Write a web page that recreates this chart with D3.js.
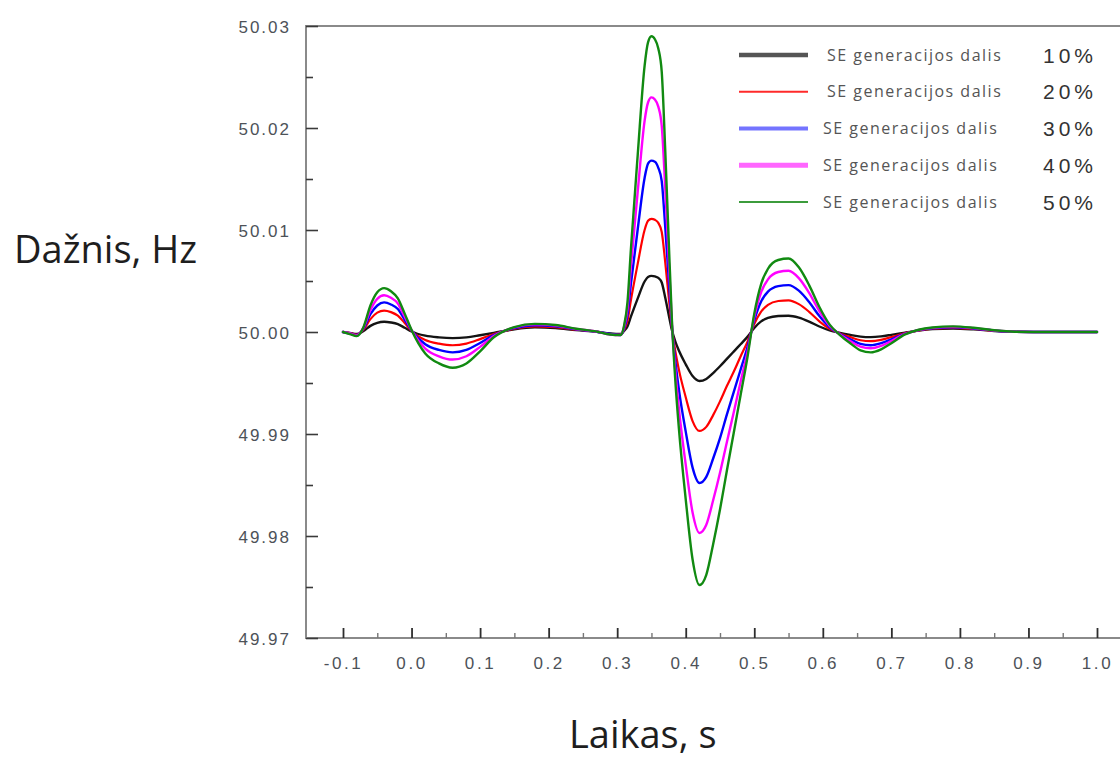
<!DOCTYPE html>
<html>
<head>
<meta charset="utf-8">
<script src="https://cdn.jsdelivr.net/npm/d3@7"></script>
<style>
  html, body { margin: 0; padding: 0; background: #ffffff; }
  svg { display: block; }
</style>
</head>
<body>
<svg id="chart" width="1120" height="758"></svg>
<script>
// ---------------- data (frequency deviation from 50 Hz, in mHz) ----------------
const times = [-0.10, -0.09, -0.08, -0.07, -0.06, -0.05, -0.04, -0.03, -0.02, -0.01, 0.00,
  0.02, 0.04, 0.06, 0.08, 0.10, 0.12, 0.15, 0.18, 0.21, 0.24, 0.27, 0.29, 0.305,
  0.31, 0.315, 0.32, 0.33, 0.34, 0.345, 0.35, 0.355, 0.36, 0.365, 0.37, 0.375, 0.38,
  0.385, 0.39, 0.40, 0.41, 0.42, 0.43, 0.44, 0.45, 0.46, 0.47, 0.48, 0.49,
  0.50, 0.51, 0.52, 0.535, 0.55, 0.565, 0.58, 0.595, 0.61,
  0.625, 0.64, 0.655, 0.67, 0.685, 0.70, 0.72,
  0.74, 0.76, 0.79, 0.82, 0.85, 0.88, 0.92, 0.96, 1.00];

const share10 = [0, -0.1, -0.2, 0.1, 0.6, 0.9, 1.0, 0.93, 0.77, 0.42, 0.05,
  -0.36, -0.53, -0.6, -0.53, -0.32, -0.09, 0.27, 0.45, 0.38, 0.18, 0.02, -0.15, -0.2,
  0.1, 0.55, 1.5, 3.3, 4.95, 5.4, 5.5, 5.45, 5.3, 4.85, 3.4, 1.75, 0.15,
  -0.96, -1.82, -3.17, -4.32, -4.8, -4.6, -4.03, -3.36, -2.64, -1.92, -1.2, -0.48,
  0.4, 1.04, 1.38, 1.57, 1.6, 1.41, 1.02, 0.54, 0.16,
  -0.08, -0.28, -0.45, -0.5, -0.43, -0.28, -0.06,
  0.14, 0.28, 0.35, 0.26, 0.1, 0.02, 0, 0, 0];

const share20 = [0, -0.1, -0.25, 0.25, 1.26, 1.9, 2.1, 1.95, 1.6, 0.88, 0.1,
  -0.78, -1.14, -1.3, -1.14, -0.7, -0.2, 0.33, 0.55, 0.47, 0.22, 0.03, -0.2, -0.25,
  0.2, 1.1, 3.1, 6.7, 10.0, 10.9, 11.1, 11.0, 10.7, 9.8, 6.9, 3.55, 0.3,
  -1.94, -3.69, -6.4, -8.73, -9.7, -9.3, -8.15, -6.8, -5.3, -3.9, -2.4, -0.97,
  0.78, 2.0, 2.67, 3.04, 3.1, 2.73, 1.98, 1.05, 0.31,
  -0.14, -0.5, -0.81, -0.9, -0.77, -0.5, -0.11,
  0.16, 0.32, 0.4, 0.3, 0.12, 0.02, 0, 0, 0];

const share30 = [0, -0.15, -0.3, 0.35, 1.74, 2.6, 2.9, 2.7, 2.25, 1.2, 0.15,
  -1.2, -1.76, -2.0, -1.76, -1.08, -0.3, 0.39, 0.65, 0.55, 0.26, 0.03, -0.2, -0.3,
  0.3, 1.7, 4.7, 10.1, 15.1, 16.5, 16.8, 16.7, 16.1, 14.8, 10.4, 5.4, 0.5,
  -2.96, -5.62, -9.77, -13.3, -14.8, -14.2, -12.4, -10.4, -8.1, -5.9, -3.7, -1.5,
  1.15, 3.0, 3.96, 4.5, 4.6, 4.05, 2.94, 1.56, 0.46,
  -0.2, -0.72, -1.17, -1.3, -1.1, -0.72, -0.16,
  0.18, 0.36, 0.45, 0.34, 0.14, 0.02, 0, 0, 0];

const share40 = [0, -0.15, -0.35, 0.45, 2.16, 3.25, 3.6, 3.35, 2.8, 1.5, 0.18,
  -1.62, -2.38, -2.7, -2.38, -1.46, -0.4, 0.45, 0.75, 0.64, 0.3, 0.04, -0.25, -0.3,
  0.5, 2.3, 6.4, 13.8, 20.7, 22.5, 23.0, 22.8, 22.1, 20.2, 14.3, 7.4, 0.7,
  -3.94, -7.49, -13.0, -17.7, -19.7, -18.9, -16.5, -13.8, -10.8, -7.9, -4.9, -2.0,
  1.5, 3.9, 5.16, 5.88, 6.0, 5.28, 3.84, 2.04, 0.6,
  -0.24, -0.88, -1.44, -1.6, -1.36, -0.88, -0.19,
  0.2, 0.4, 0.5, 0.38, 0.15, 0.03, 0, 0, 0];

const share50 = [0, -0.2, -0.4, 0.5, 2.6, 3.9, 4.3, 4.0, 3.3, 1.8, 0.2,
  -2.1, -3.08, -3.5, -3.08, -1.89, -0.52, 0.48, 0.8, 0.68, 0.32, 0.04, -0.25, -0.3,
  0.6, 2.9, 8.1, 17.4, 26.1, 28.4, 29.0, 28.7, 27.8, 25.5, 18.0, 9.3, 0.9,
  -4.96, -9.42, -16.4, -22.3, -24.8, -23.8, -20.8, -17.4, -13.6, -9.9, -6.2, -2.5,
  1.8, 4.7, 6.2, 7.06, 7.2, 6.34, 4.6, 2.45, 0.72,
  -0.3, -1.1, -1.8, -2.0, -1.7, -1.1, -0.24,
  0.22, 0.44, 0.55, 0.41, 0.17, 0.03, 0, 0, 0];

const seriesNames = ["10%", "20%", "30%", "40%", "50%"];
const legendText = "SE generacijos dalis";

const yTickValues = [-30, -20, -10, 0, 10, 20, 30];
const yTickLabels = ["49.97", "49.98", "49.99", "50.00", "50.01", "50.02", "50.03"];
const yMinorValues = [-25, -15, -5, 5, 15, 25];
const xTickValues = [-0.1, 0.0, 0.1, 0.2, 0.3, 0.4, 0.5, 0.6, 0.7, 0.8, 0.9, 1.0];
const xTickLabels = ["-0.1", "0.0", "0.1", "0.2", "0.3", "0.4", "0.5", "0.6", "0.7", "0.8", "0.9", "1.0"];
const xMinorValues = [-0.05, 0.05, 0.15, 0.25, 0.35, 0.45, 0.55, 0.65, 0.75, 0.85, 0.95];

const yTitle = "Dažnis, Hz";
const xTitle = "Laikas, s";

// ---------------- styles ----------------
const lineColors   = ["#141414", "#ff0000", "#0000ff", "#ff00ff", "#118a11"];
const lineWidths   = [2.4, 2.2, 2.4, 2.4, 2.4];
const legendColors = ["#555555", "#ff2a2a", "#7474ff", "#ff66ff", "#3c9c3c"];
const legendWidths = [4.5, 2, 4, 5, 2];

// ---------------- drawing ----------------
const svg = d3.select("#chart");
const frameLeft = 306, frameRight = 1120, frameTop = 26, frameBottom = 638;

const x = d3.scaleLinear().domain([-0.1, 1.0]).range([343, 1097]);
const y = d3.scaleLinear().domain([-30, 30]).range([frameBottom, frameTop]);

// frame lines (left, bottom, top)
const frame = svg.append("g").attr("stroke", "#8a8a8a").attr("stroke-width", 2).attr("fill", "none");
frame.append("line").attr("x1", frameLeft).attr("x2", frameLeft).attr("y1", frameTop - 1).attr("y2", frameBottom + 1);
frame.append("line").attr("x1", frameLeft).attr("x2", frameRight).attr("y1", frameBottom).attr("y2", frameBottom);
frame.append("line").attr("x1", frameLeft - 1).attr("x2", frameRight).attr("y1", frameTop).attr("y2", frameTop);

const tickFont = "'Liberation Sans', Arial, sans-serif";

// y axis (major)
const yAxis = d3.axisLeft(y)
  .tickValues(yTickValues)
  .tickSizeInner(-12).tickSizeOuter(0)
  .tickPadding(15)
  .tickFormat((d, i) => yTickLabels[i]);
const gy = svg.append("g").attr("transform", `translate(${frameLeft},0)`).call(yAxis);
gy.select(".domain").remove();
gy.selectAll(".tick line").attr("stroke", "#3a3a3a").attr("stroke-width", 1.6);
gy.selectAll(".tick text")
  .attr("font-family", tickFont).attr("font-size", 17).attr("fill", "#4d5258")
  .style("letter-spacing", "2px").attr("dy", "0.36em");

// y axis (minor)
const yMinor = d3.axisLeft(y).tickValues(yMinorValues).tickSizeInner(-7).tickSizeOuter(0).tickFormat("");
const gym = svg.append("g").attr("transform", `translate(${frameLeft},0)`).call(yMinor);
gym.select(".domain").remove();
gym.selectAll(".tick line").attr("stroke", "#3a3a3a").attr("stroke-width", 1.6);

// x axis (major)
const xAxis = d3.axisBottom(x)
  .tickValues(xTickValues)
  .tickSizeInner(-10).tickSizeOuter(0)
  .tickPadding(19)
  .tickFormat((d, i) => xTickLabels[i]);
const gx = svg.append("g").attr("transform", `translate(0,${frameBottom})`).call(xAxis);
gx.select(".domain").remove();
gx.selectAll(".tick line").attr("stroke", "#2e2e2e").attr("stroke-width", 1.8);
gx.selectAll(".tick text")
  .attr("font-family", tickFont).attr("font-size", 17).attr("fill", "#4d5258")
  .style("letter-spacing", "2.6px");

// x axis (minor)
const xMinor = d3.axisBottom(x).tickValues(xMinorValues).tickSizeInner(-5).tickSizeOuter(0).tickFormat("");
const gxm = svg.append("g").attr("transform", `translate(0,${frameBottom})`).call(xMinor);
gxm.select(".domain").remove();
gxm.selectAll(".tick line").attr("stroke", "#777").attr("stroke-width", 1.4);

// series lines
const allSeries = [share10, share20, share30, share40, share50];
const line = d3.line()
  .x((d, i) => x(times[i]))
  .y(d => y(d))
  .curve(d3.curveMonotoneX);

svg.append("g").selectAll("path")
  .data(allSeries)
  .join("path")
  .attr("d", d => line(d))
  .attr("fill", "none")
  .attr("stroke", (d, i) => lineColors[i])
  .attr("stroke-width", (d, i) => lineWidths[i])
  .attr("stroke-linejoin", "round")
  .attr("stroke-linecap", "round");

// legend
const legendRow = d3.scaleLinear().domain([0, 4]).range([55, 202]);
const legend = svg.append("g");
const rows = legend.selectAll("g").data(seriesNames).join("g")
  .attr("transform", (d, i) => `translate(0,${legendRow(i)})`);
rows.append("line")
  .attr("x1", 739).attr("x2", 808).attr("y1", 0).attr("y2", 0)
  .attr("stroke", (d, i) => legendColors[i])
  .attr("stroke-width", (d, i) => legendWidths[i]);
rows.append("text")
  .attr("x", (d, i) => i < 2 ? 827 : 823)
  .attr("y", 0).attr("dy", "0.35em")
  .attr("font-family", "'Open Sans', sans-serif").attr("font-size", 16)
  .style("letter-spacing", "1.5px")
  .attr("fill", "#555")
  .text(legendText);
rows.append("text")
  .attr("x", 1043)
  .attr("y", 0).attr("dy", "0.36em")
  .attr("font-family", tickFont).attr("font-size", 21)
  .style("letter-spacing", "4px")
  .attr("fill", "#333")
  .text(d => d);

// axis titles
svg.append("text")
  .attr("x", 14).attr("y", 263)
  .attr("font-family", "'Open Sans', sans-serif").attr("font-size", 38)
  .attr("fill", "#1e1e1e")
  .text(yTitle);
svg.append("text")
  .attr("x", 569).attr("y", 748)
  .attr("font-family", "'Open Sans', sans-serif").attr("font-size", 38)
  .attr("fill", "#1e1e1e")
  .text(xTitle);
</script>
</body>
</html>
